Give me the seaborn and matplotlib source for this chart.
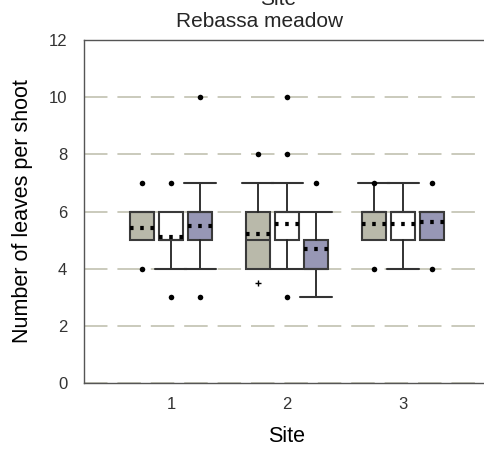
import numpy as np
import pandas as pd
import matplotlib
matplotlib.use("Agg")
import matplotlib.pyplot as plt
import seaborn as sns

# ---------------- data ----------------
sites = [1, 2, 3]
groups = ["grey", "white", "blue"]
q1 = [[5, 5, 5], [4, 5, 4], [5, 5, 5]]
median = [[6, 5, 6], [5, 6, 4], [6, 6, 6]]
q3 = [[6, 6, 6], [6, 6, 5], [6, 6, 6]]
whisker_low = [[5, 4, 4], [4, 4, 3], [5, 4, 5]]
whisker_high = [[6, 6, 7], [7, 7, 6], [7, 7, 6]]
means = [[5.42, 5.10, 5.48], [5.20, 5.55, 4.70], [5.55, 5.58, 5.62]]
outliers = [[[7, 4], [7, 3], [10, 3]],
            [[8], [10, 8, 3], [7]],
            [[7, 4], [], [7, 4]]]
minor_points = [(2, "grey", 3.5)]
yticks = [0, 2, 4, 6, 8, 10, 12]

# ---------------- style ----------------
sns.set_style("white")
plt.rcParams["font.family"] = ["Liberation Sans", "DejaVu Sans"]

fills = {"grey": "#b9b9aa", "white": "#ffffff", "blue": "#9797b5"}
edge = "#3a3a3a"
offsets = {"grey": -0.25, "white": 0.0, "blue": 0.25}
box_w = 0.20
cap_w = 0.28

fig = plt.figure(figsize=(4.85, 4.51), dpi=100)
ax = fig.add_axes([84 / 485, 68 / 451, 401 / 485, 343 / 451])

stats, pos, cols = [], [], []
for i, s in enumerate(sites):
    for j, g in enumerate(groups):
        stats.append(dict(q1=q1[i][j], med=median[i][j], q3=q3[i][j],
                          whislo=whisker_low[i][j], whishi=whisker_high[i][j],
                          mean=means[i][j], fliers=[]))
        pos.append(s + offsets[g])
        cols.append(fills[g])

art = ax.bxp(stats, positions=pos, widths=box_w, capwidths=cap_w,
             patch_artist=True, showmeans=True, meanline=True,
             boxprops=dict(edgecolor=edge, linewidth=1.5),
             medianprops=dict(color=edge, linewidth=1.5),
             whiskerprops=dict(color="#222222", linewidth=1.3),
             capprops=dict(color="#333333", linewidth=1.5),
             meanprops=dict(color="black", linewidth=3.0,
                            linestyle=(0, (0.85, 1.6))),
             zorder=3)
for patch, c in zip(art["boxes"], cols):
    patch.set_facecolor(c)
for k, st in enumerate(stats):
    if st["whislo"] == st["q1"]:
        art["caps"][2 * k].set_visible(False)
        art["whiskers"][2 * k].set_visible(False)
    if st["whishi"] == st["q3"]:
        art["caps"][2 * k + 1].set_visible(False)
        art["whiskers"][2 * k + 1].set_visible(False)

rows = []
for i, s in enumerate(sites):
    for j, g in enumerate(groups):
        for v in outliers[i][j]:
            rows.append(dict(x=s + offsets[g], y=v))
df_out = pd.DataFrame(rows)
sns.scatterplot(data=df_out, x="x", y="y", ax=ax, color="black", s=16,
                marker="o", linewidth=0, zorder=5, legend=False)
df_minor = pd.DataFrame([dict(x=s + offsets[g], y=v) for s, g, v in minor_points])
sns.scatterplot(data=df_minor, x="x", y="y", ax=ax, color="black", s=14,
                marker="+", linewidth=1, zorder=5, legend=False)

# ---------------- axes ----------------
ax.set_xlim(0.25, 3.707)
ax.set_ylim(0, 12)
ax.set_xticks(sites)
ax.set_xticklabels([str(s) for s in sites])
ax.set_yticks(yticks)
ax.yaxis.grid(True, color="#c6c6b6", linewidth=1.3, linestyle=(0, (13, 5.5)))
ax.xaxis.grid(False)
ax.set_axisbelow(True)
for side in ["top", "left", "bottom"]:
    ax.spines[side].set_color("#555555")
    ax.spines[side].set_linewidth(1.0)
ax.spines["right"].set_visible(False)
ax.tick_params(axis="both", direction="out", length=5, width=1,
               color="#555555", labelsize=12, labelcolor="#333333", pad=5)
ax.tick_params(axis="y", pad=7)

ax.set_xlabel("Site", fontsize=15.5, color="black")
ax.set_ylabel("Number of leaves per shoot", fontsize=15.5, color="black")
ax.xaxis.set_label_coords(0.504, -0.125)
ax.yaxis.set_label_coords(-0.128, 0.5)

fig.text(278 / 485, 1 - 5 / 451, "Site", ha="center", va="baseline", fontsize=15)
fig.text(260 / 485, 1 - 27 / 451, "Rebassa meadow", ha="center", va="baseline",
         fontsize=15)

fig.savefig("out.png", dpi=100)
